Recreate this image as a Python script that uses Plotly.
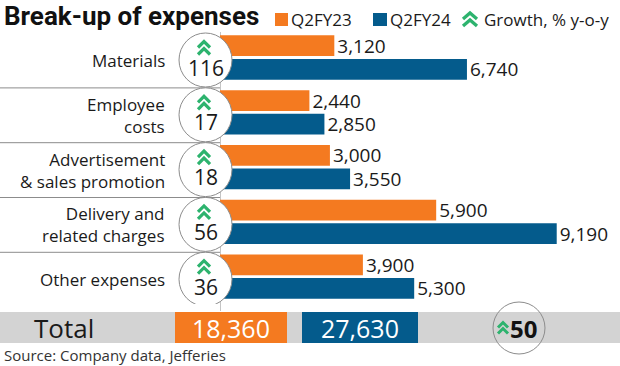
import plotly.graph_objects as go

# ---------------- data ----------------
categories = ["Materials", "Employee<br>costs", "Advertisement<br>& sales promotion",
              "Delivery and<br>related charges", "Other expenses"]
series_names = ["Q2FY23", "Q2FY24"]
q2fy23 = [3120, 2440, 3000, 5900, 3900]
q2fy24 = [6740, 2850, 3550, 9190, 5300]
growth = [116, 17, 18, 56, 36]
total_label = "Total"
total_q2fy23 = 18360
total_q2fy24 = 27630
total_growth = 50
title_text = "Break-up of expenses"
growth_legend = "Growth, % y-o-y"
source_text = "Source: Company data, Jefferies"

# ---------------- style ----------------
W, H = 620, 366
def px(x): return x / W
def py(y): return 1 - y / H

ORANGE = "#F47A20"
BLUE = "#045B8C"
GREEN = "#2DB36E"
TEXT = "#1a1a1a"
GRAYLINE = "#8c8c8c"
FONT = "Open Sans, Lato, sans-serif"

def chevron_path(w, h, gap, yc=0.0, xc=0.0):
    a1 = yc + (h + gap) / 2
    a2 = a1 - gap
    return (f"M {xc - w/2},{a1 - h} L {xc},{a1} L {xc + w/2},{a1 - h} "
            f"M {xc - w/2},{a2 - h} L {xc},{a2} L {xc + w/2},{a2 - h}")

def note(x, y, text, size, color=TEXT, xanchor="center", family=FONT):
    return dict(x=px(x), y=py(y), xref="paper", yref="paper", xanchor=xanchor,
                yanchor="middle", text=text, showarrow=False,
                font=dict(size=size, color=color, family=family))

fig = go.Figure()
for name, vals, col in [(series_names[0], q2fy23, ORANGE), (series_names[1], q2fy24, BLUE)]:
    fig.add_trace(go.Bar(
        y=categories, x=vals, name=name, orientation="h", marker_color=col,
        marker_line_width=0,
        texttemplate="%{x:,}", textposition="outside", cliponaxis=False,
        constraintext="none",
        textfont=dict(size=19, color=TEXT, family=FONT),
        hoverinfo="skip"))

shapes = []
annotations = []

# baseline vertical line
shapes.append(dict(type="line", xref="x", yref="paper", x0=0, x1=0,
                   y0=py(311), y1=py(32), line=dict(color=GRAYLINE, width=1), layer="below"))

# separators between rows
for i in range(len(categories) - 1):
    shapes.append(dict(type="line", xref="paper", x0=0, x1=px(220),
                       yref="y", ysizemode="pixel", yanchor=i + 0.5, y0=-3, y1=-3,
                       line=dict(color=GRAYLINE, width=1)))

# category labels, growth circles
for i, (cat, g) in enumerate(zip(categories, growth)):
    annotations.append(dict(x=px(167), xref="paper", xanchor="right", y=i, yref="y",
                            yanchor="middle", yshift=-3, text=cat, showarrow=False,
                            align="right", font=dict(size=17, color=TEXT, family=FONT)))
    shapes.append(dict(type="circle", xref="paper", xsizemode="pixel", xanchor=px(205.5),
                       x0=-26.5, x1=26.5, yref="y", ysizemode="pixel", yanchor=i,
                       y0=-29.5, y1=24.5, fillcolor="white",
                       line=dict(color=GRAYLINE, width=1)))
    shapes.append(dict(type="path", xref="paper", xsizemode="pixel", xanchor=px(204),
                       yref="y", ysizemode="pixel", yanchor=i,
                       path=chevron_path(12, 6, 7, yc=9.5),
                       line=dict(color=GREEN, width=3.2)))
    annotations.append(dict(x=px(205.5), xref="paper", xanchor="center", y=i, yref="y",
                            yanchor="middle", yshift=-10, text=str(g), showarrow=False,
                            font=dict(size=21, color=TEXT, family=FONT)))

# total band
shapes.append(dict(type="rect", xref="paper", yref="paper", x0=0, x1=1,
                   y0=py(343), y1=py(312), fillcolor="#D3D3D3", line_width=0, layer="below"))
shapes.append(dict(type="rect", xref="paper", yref="paper", x0=px(175), x1=px(287),
                   y0=py(343), y1=py(312), fillcolor=ORANGE, line_width=0))
shapes.append(dict(type="rect", xref="paper", yref="paper", x0=px(302), x1=px(418),
                   y0=py(343), y1=py(312), fillcolor=BLUE, line_width=0))
annotations.append(note(64, 328, total_label, 26))
annotations.append(note(231, 328, f"{total_q2fy23:,}", 25, color="white"))
annotations.append(note(360, 328, f"{total_q2fy24:,}", 25, color="white"))
shapes.append(dict(type="circle", xref="paper", yref="paper", x0=px(493), x1=px(545),
                   y0=py(354), y1=py(302), line=dict(color=GRAYLINE, width=1)))
shapes.append(dict(type="path", xref="paper", xsizemode="pixel", xanchor=px(503),
                   yref="paper", ysizemode="pixel", yanchor=py(328),
                   path=chevron_path(10, 5, 6), line=dict(color=GREEN, width=3)))
annotations.append(note(508, 328, f"<b>{total_growth}</b>", 24, color="#111", xanchor="left"))

# title
annotations.append(note(2, 16, f"<b>{title_text}</b>", 26, color="#111", xanchor="left",
                        family="Roboto, sans-serif"))
# legend
shapes.append(dict(type="rect", xref="paper", yref="paper", x0=px(275), x1=px(288),
                   y0=py(26), y1=py(13), fillcolor=ORANGE, line_width=0))
annotations.append(note(289, 19.5, series_names[0], 17, xanchor="left"))
shapes.append(dict(type="rect", xref="paper", yref="paper", x0=px(373), x1=px(387),
                   y0=py(26), y1=py(13), fillcolor=BLUE, line_width=0))
annotations.append(note(388, 19.5, series_names[1], 17, xanchor="left"))
shapes.append(dict(type="path", xref="paper", xsizemode="pixel", xanchor=px(470),
                   yref="paper", ysizemode="pixel", yanchor=py(19.5),
                   path=chevron_path(14, 6, 7), line=dict(color=GREEN, width=3.3)))
annotations.append(note(482, 19.5, growth_legend, 17, xanchor="left"))
# source
annotations.append(note(2, 355, source_text, 15, color="#333", xanchor="left"))

fig.update_layout(
    width=W, height=H, margin=dict(l=0, r=0, t=0, b=0),
    paper_bgcolor="white", plot_bgcolor="white", showlegend=False,
    barmode="group", bargap=0.14, bargroupgap=0.12,
    xaxis=dict(domain=[px(220), 1], range=[0, 10917], visible=False, fixedrange=True),
    yaxis=dict(domain=[py(304.1), py(30.1)], type="category",
               categoryorder="array", categoryarray=categories,
               range=[len(categories) - 0.5, -0.5], visible=False, fixedrange=True),
    shapes=shapes, annotations=annotations,
)

fig.write_html("out.html", config={"displayModeBar": False},
               post_script="document.body.style.margin='0';")
